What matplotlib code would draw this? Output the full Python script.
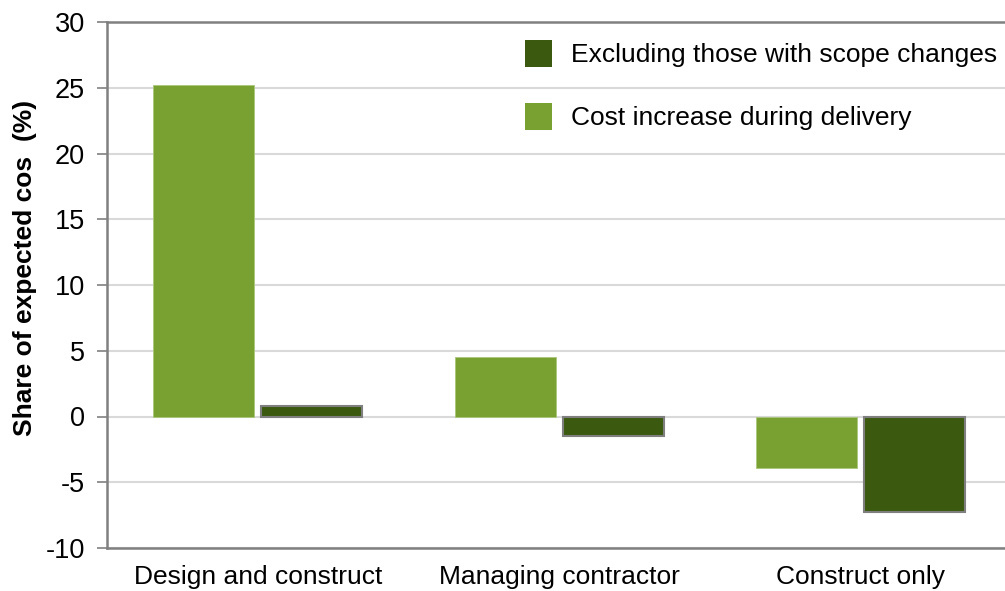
import numpy as np
import matplotlib
matplotlib.use('Agg')
import matplotlib.pyplot as plt
from matplotlib.patches import Patch

plt.rcParams['font.family'] = ['Liberation Sans', 'DejaVu Sans']
plt.rcParams['axes.unicode_minus'] = False

categories = ['Design and construct', 'Managing contractor', 'Construct only']
cost_increase = [25.2, 4.5, -3.9]
excl_scope = [0.8, -1.5, -7.3]
series_names = ['Excluding those with scope changes', 'Cost increase during delivery']

light = '#78a131'
dark = '#3b5a0f'

fig = plt.figure(figsize=(10.05, 5.91), dpi=100)
ax = fig.add_axes([107 / 1005, 43 / 591, 898 / 1005, 526 / 591])

x = np.arange(len(categories))
w = 0.335
ax.bar(x - 0.179, cost_increase, w, color=light, edgecolor='#a9c77a', linewidth=0.6, zorder=3)
ax.bar(x + 0.179, excl_scope, w, color=dark, edgecolor='#7f7f7f', linewidth=1.5, zorder=3)

ax.set_xlim(-0.5, 2.478)
ax.set_ylim(-10, 30)
ax.set_yticks(range(-10, 31, 5))
ax.set_xticks(x)
ax.set_xticklabels(categories, fontsize=19)
ax.tick_params(axis='x', length=0, pad=12)
ax.tick_params(axis='y', labelsize=19.5, length=7, width=1.2, color='#808080', pad=9)

ax.grid(axis='y', color='#d9d9d9', linewidth=1.5, zorder=0)
ax.set_axisbelow(True)
for s in ['left', 'bottom', 'top']:
    ax.spines[s].set_color('#808080')
    ax.spines[s].set_linewidth(1.8)
ax.spines['right'].set_visible(False)

ax.set_ylabel('Share of expected cos  (%)', fontsize=19, fontweight='bold')
ax.yaxis.set_label_coords(-0.078, 0.532)

handles = [Patch(facecolor=dark), Patch(facecolor=light)]
fig.legend(handles, series_names, loc='upper left', bbox_to_anchor=(525 / 1005, 1 - 40 / 591),
           frameon=False, fontsize=19, handlelength=1.02, handleheight=1.2,
           handletextpad=0.74, labelspacing=1.35, borderpad=0, borderaxespad=0)

fig.savefig('out.png', dpi=100)
